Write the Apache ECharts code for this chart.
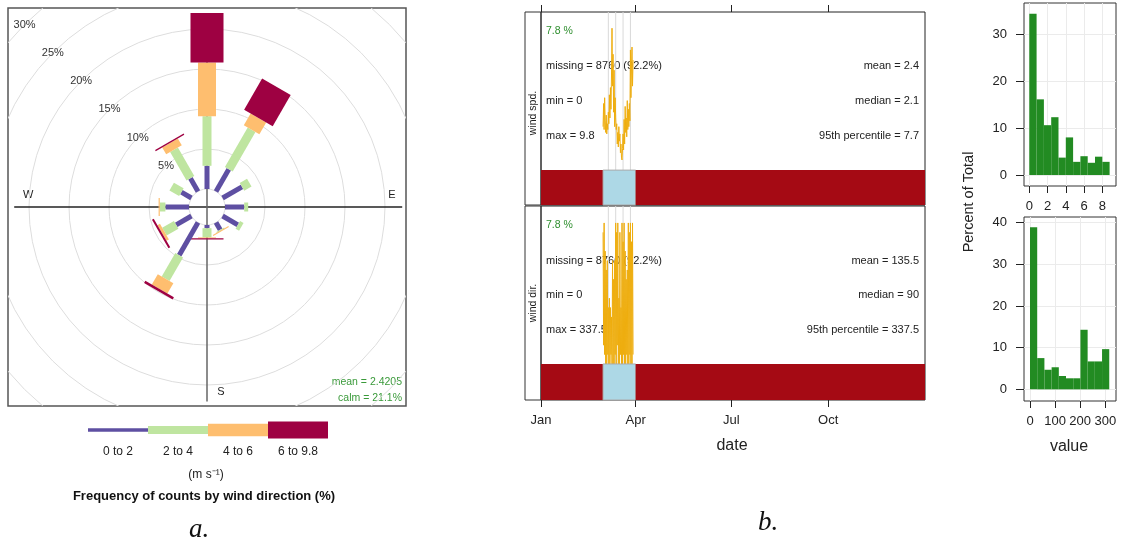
<!DOCTYPE html>
<html>
<head>
<meta charset="utf-8">
<script src="https://cdn.jsdelivr.net/npm/echarts@6/dist/echarts.min.js"></script>
<style>
  html, body { margin: 0; padding: 0; background: #fff; }
  #main { width: 1121px; height: 548px; }
</style>
</head>
<body>
<div id="main"></div>
<script>
// ---- a. wind rose: % of counts per 30 degree sector, split by speed bin
const directions = [0, 30, 60, 90, 120, 150, 180, 210, 240, 270, 300, 330];
const speedBins = ['0 to 2', '2 to 4', '4 to 6', '6 to 9.8'];
const freq0to2 = [2.9, 3.2, 2.8, 2.4, 2.2, 1.05, 0.4, 4.7, 2.2, 2.95, 1.45, 1.9];
const freq2to4 = [6.2, 5.7, 1.05, 0.5, 0.5, 0.1, 1.15, 3.4, 1.7, 0.7, 1.4, 4.1];
const freq4to6 = [6.7, 1.7, 0, 0, 0, 0.05, 0.1, 1.5, 0.35, 0.15, 0, 1.0];
const freq6to98 = [6.2, 4.5, 0, 0, 0, 0, 0.15, 0.3, 0.25, 0, 0, 0.15];
const ringPcts = [0, 5, 10, 15, 20, 25, 30];
const roseNotes = ['mean = 2.4205', 'calm = 21.1%'];

// ---- b. summary of the time series
const monthTicks = ['2001-01-01', '2001-04-01', '2001-07-01', '2001-10-01'];
const monthLabels = ['Jan', 'Apr', 'Jul', 'Oct'];
const availability = [
  ['2001-01-01', '2001-03-01', 0],
  ['2001-03-01', '2001-04-01', 1],
  ['2001-04-01', '2002-01-01', 0]
];
const weekLines = ['2001-03-06', '2001-03-13', '2001-03-20', '2001-03-27'];
const sampleStart = '2001-03-01'; // two samples a day
const windSpd = [3.0, 4.6, 2.8, 5.0, 3.4, 2.6, 3.8, 2.5, 3.2, 2.8, 4.0, 3.2, 5.2, 3.6, 5.7, 4.2,
  6.5, 9.8, 5.8, 8.0, 4.0, 6.9, 3.0, 5.0, 3.6, 2.8, 3.2, 1.8, 2.6, 1.6, 3.0, 2.0, 2.5, 1.2,
  1.8, 0.9, 0.7, 1.5, 2.5, 1.4, 3.5, 1.8, 4.4, 2.6, 3.6, 2.3, 4.8, 2.8, 4.2, 3.0, 4.6, 3.4,
  8.3, 5.0, 7.0, 8.5, 5.8, 7.6];
const windDir = [315, 45, 337.5, 22.5, 270, 0, 225, 0, 247.5, 22.5, 135, 0, 157.5, 0, 135, 22.5,
  112.5, 0, 247.5, 0, 202.5, 0, 247.5, 22.5, 337.5, 0, 315, 45, 337.5, 0, 157.5, 0, 315, 22.5,
  135, 0, 337.5, 0, 292.5, 22.5, 337.5, 0, 270, 0, 202.5, 22.5, 225, 0, 337.5, 0, 315, 22.5,
  337.5, 0, 292.5, 0, 337.5, 22.5];
const pctPresent = '7.8 %';
const spdStatsLeft = ['missing = 8760 (92.2%)', 'min = 0', 'max = 9.8'];
const spdStatsRight = ['mean = 2.4', 'median = 2.1', '95th percentile = 7.7'];
const dirStatsLeft = ['missing = 8760 (92.2%)', 'min = 0', 'max = 337.5'];
const dirStatsRight = ['mean = 135.5', 'median = 90', '95th percentile = 337.5'];

// ---- histograms (percent of total)
const spdBinEdges = [0, 0.8, 1.6, 2.4, 3.2, 4.0, 4.8, 5.6, 6.4, 7.2, 8.0, 8.8];
const spdHist = [34.3, 16.1, 10.6, 12.3, 3.7, 8.0, 2.8, 4.0, 2.6, 3.9, 2.8];
const dirBinEdges = [0, 28.7, 57.4, 86.1, 114.8, 143.5, 172.2, 200.9, 229.6, 258.3, 287.0, 315.7];
const dirHist = [38.9, 7.5, 4.7, 5.3, 3.2, 2.65, 2.65, 14.3, 6.7, 6.7, 9.65];

const FONT = 'Liberation Sans, Arial, sans-serif';
const speedColors = ['#5e4fa2', '#bfe5a0', '#febe6f', '#9e0142'];
const petalWidth = [5, 9, 18, 33];
const HOLE = 2.25; // calm hole radius in % units
const SPD_MIN = -2.41, SPD_MAX = 10.92;
const DIR_MIN = -86.2, DIR_MAX = 378;

const t = s => +new Date(s + 'T00:00:00');
const tStart = t('2001-01-01'), tEnd = t('2002-01-01');
const monthTickTimes = monthTicks.map(t);

// petal pieces: [direction, cumulative start, cumulative end, speed bin]
const freqBySpeed = [freq0to2, freq2to4, freq4to6, freq6to98];
const petalData = [];
directions.forEach((d, i) => {
  let cum = 0;
  freqBySpeed.forEach((arr, k) => {
    if (arr[i] > 0) petalData.push([d, cum, cum + arr[i], k]);
    cum += arr[i];
  });
});

const sample0 = t(sampleStart);
const spdLine = windSpd.map((v, i) => [sample0 + i * 12 * 3600e3, v]);
const dirLine = windDir.map((v, i) => [sample0 + i * 12 * 3600e3, v]);
const availData = availability.map(a => [t(a[0]), t(a[1]), a[2]]);
const weekData = weekLines.map(d => [t(d)]);

function renderPetal(params, api) {
  const a = api.value(0) * Math.PI / 180;
  const k = api.value(3);
  const r0 = HOLE + api.value(1), r1 = HOLE + api.value(2);
  const ux = Math.sin(a), uy = -Math.cos(a);
  const p0 = api.coord([r0 * Math.sin(a), r0 * Math.cos(a)]);
  let p1 = api.coord([r1 * Math.sin(a), r1 * Math.cos(a)]);
  if (Math.hypot(p1[0] - p0[0], p1[1] - p0[1]) < 1) p1 = [p0[0] + ux, p0[1] + uy];
  const h = petalWidth[k] / 2, nx = -uy * h, ny = ux * h;
  return {
    type: 'polygon',
    shape: { points: [[p0[0] + nx, p0[1] + ny], [p1[0] + nx, p1[1] + ny], [p1[0] - nx, p1[1] - ny], [p0[0] - nx, p0[1] - ny]] },
    style: { fill: speedColors[k] }
  };
}

function renderRing(params, api) {
  const c = api.coord([0, 0]);
  const r = api.coord([HOLE + api.value(0), 0])[0] - c[0];
  return { type: 'circle', shape: { cx: c[0], cy: c[1], r: r }, style: { fill: 'none', stroke: '#dddddd', lineWidth: 1 } };
}

// compass cross: [x1, y1, x2, y2, colour index]
const crossData = [[-24.1, 0, 24.4, 0, 0], [0, 24.1, 0, -24.3, 1]];
function renderCross(params, api) {
  const a = api.coord([api.value(0), api.value(1)]);
  const b = api.coord([api.value(2), api.value(3)]);
  return { type: 'line', shape: { x1: a[0], y1: a[1], x2: b[0], y2: b[1] }, style: { stroke: api.value(4) ? '#666' : '#222', lineWidth: 1.5 } };
}

function renderRingLabel(params, api) {
  const p = api.value(0), r = HOLE + p;
  const pt = api.coord([-r * Math.SQRT1_2, r * Math.SQRT1_2]);
  return { type: 'text', x: pt[0], y: pt[1], style: { text: p + '%', fill: '#333', fontSize: 11, fontFamily: FONT, align: 'center', verticalAlign: 'middle' } };
}

function makeAvail(yMin) {
  return function (params, api) {
    const a = api.coord([api.value(0), 0]);
    const b = api.coord([api.value(1), yMin]);
    const ok = api.value(2) === 1;
    return {
      type: 'rect',
      shape: { x: a[0], y: a[1], width: b[0] - a[0], height: b[1] - a[1] },
      style: ok ? { fill: '#add8e6', stroke: '#aaaaaa', lineWidth: 1 } : { fill: '#a50a14' }
    };
  };
}

function makeWeek(yMax) {
  return function (params, api) {
    const a = api.coord([api.value(0), yMax]);
    const b = api.coord([api.value(0), 0]);
    return { type: 'line', shape: { x1: a[0], y1: a[1], x2: b[0], y2: b[1] }, style: { stroke: '#d9d9d9', lineWidth: 1 } };
  };
}

function renderHist(params, api) {
  const a = api.coord([api.value(0), api.value(2)]);
  const b = api.coord([api.value(1), 0]);
  return { type: 'rect', shape: { x: a[0], y: a[1], width: b[0] - a[0], height: b[1] - a[1] }, style: { fill: '#228b22' } };
}

function histX(grid, min, max, ticks) {
  return {
    gridIndex: grid, type: 'value', min: min, max: max,
    axisLine: { show: false, onZero: false },
    axisTick: { show: true, length: 7, customValues: ticks, lineStyle: { color: '#222' } },
    axisLabel: { customValues: ticks, margin: 14, fontSize: 13, color: '#222', fontFamily: FONT },
    splitLine: { show: true, lineStyle: { color: '#ebebeb' } }
  };
}
function histY(grid, min, max, ticks) {
  return {
    gridIndex: grid, type: 'value', min: min, max: max,
    axisLine: { show: false, onZero: false },
    axisTick: { show: true, length: 8, customValues: ticks, lineStyle: { color: '#222' } },
    axisLabel: { customValues: ticks, margin: 17, fontSize: 13, color: '#222', fontFamily: FONT },
    splitLine: { show: true, lineStyle: { color: '#ebebeb' } }
  };
}

const graphic = [];
function txt(x, y, text, opts) {
  const o = Object.assign({}, opts || {});
  const rot = o.rotation; delete o.rotation;
  const el = {
    type: 'text', x: x, y: y,
    style: Object.assign({ text: text, fill: '#222', fontSize: 11, fontFamily: FONT, align: 'left', verticalAlign: 'middle' }, o)
  };
  if (rot) el.rotation = rot;
  graphic.push(el);
}

// rose compass letters and notes
txt(23, 195, 'W');
txt(392, 195, 'E', { align: 'center' });
txt(221, 392, 'S', { align: 'center' });
txt(402, 382, roseNotes[0], { align: 'right', fill: '#3a9a3a', fontSize: 10.5 });
txt(402, 398, roseNotes[1], { align: 'right', fill: '#3a9a3a', fontSize: 10.5 });

// rose legend
const legendThick = [3.5, 8, 12.5, 17];
speedBins.forEach((name, k) => {
  graphic.push({ type: 'rect', shape: { x: 88 + 60 * k, y: 430 - legendThick[k] / 2, width: 60, height: legendThick[k] }, style: { fill: speedColors[k] } });
  txt(118 + 60 * k, 452, name, { align: 'center', fontSize: 12 });
});
txt(206, 475, '(m s\u207B\u00B9)', { align: 'center', fontSize: 12 });
txt(204, 496, 'Frequency of counts by wind direction (%)', { align: 'center', fontSize: 13, fontWeight: 'bold', fill: '#111' });
txt(199, 530, 'a.', { align: 'center', fontSize: 27, fontStyle: 'italic', fontFamily: 'Liberation Serif, Times New Roman, serif', fill: '#111' });
txt(768, 523, 'b.', { align: 'center', fontSize: 27, fontStyle: 'italic', fontFamily: 'Liberation Serif, Times New Roman, serif', fill: '#111' });

// time series strips and stats
graphic.push({ type: 'rect', shape: { x: 525, y: 12, width: 16, height: 193 }, style: { fill: 'none', stroke: '#333', lineWidth: 1 } });
graphic.push({ type: 'rect', shape: { x: 525, y: 206, width: 16, height: 194 }, style: { fill: 'none', stroke: '#333', lineWidth: 1 } });
txt(533, 113, 'wind spd.', { align: 'center', fontSize: 10.5, rotation: Math.PI / 2 });
txt(533, 303, 'wind dir.', { align: 'center', fontSize: 10.5, rotation: Math.PI / 2 });
txt(546, 31, pctPresent, { fill: '#2f8f2f', fontSize: 10.5 });
txt(546, 225, pctPresent, { fill: '#2f8f2f', fontSize: 10.5 });
const spdRows = [66, 101, 136], dirRows = [261, 295, 330];
spdRows.forEach((y, i) => { txt(546, y, spdStatsLeft[i]); txt(919, y, spdStatsRight[i], { align: 'right' }); });
dirRows.forEach((y, i) => { txt(546, y, dirStatsLeft[i]); txt(919, y, dirStatsRight[i], { align: 'right' }); });
txt(732, 446, 'date', { align: 'center', fontSize: 16 });
txt(1069, 447, 'value', { align: 'center', fontSize: 16 });
txt(969, 202, 'Percent of Total', { align: 'center', fontSize: 14.5, rotation: Math.PI / 2 });

const option = {
  animation: false,
  textStyle: { fontFamily: FONT },
  grid: [
    { left: 8, top: 8, width: 398, height: 398, show: true, borderColor: '#555', borderWidth: 1.5 },
    { left: 541, top: 12, width: 384, height: 193, show: true, borderColor: '#222', borderWidth: 1 },
    { left: 541, top: 206, width: 384, height: 194, show: true, borderColor: '#222', borderWidth: 1 },
    { left: 1024, top: 3, width: 92, height: 183, show: true, borderColor: '#333', borderWidth: 1 },
    { left: 1024, top: 217, width: 92, height: 184, show: true, borderColor: '#333', borderWidth: 1 }
  ],
  xAxis: [
    { gridIndex: 0, type: 'value', min: -24.875, max: 24.875, show: false },
    {
      gridIndex: 1, type: 'value', min: tStart, max: tEnd, position: 'top',
      axisLine: { show: false, onZero: false },
      axisTick: { show: true, length: 7, customValues: monthTickTimes, lineStyle: { color: '#222' } },
      axisLabel: { show: false }, splitLine: { show: false }
    },
    {
      gridIndex: 2, type: 'value', min: tStart, max: tEnd,
      axisLine: { show: false, onZero: false },
      axisTick: { show: true, length: 7, customValues: monthTickTimes, lineStyle: { color: '#222' } },
      axisLabel: {
        customValues: monthTickTimes, margin: 14, fontSize: 13, color: '#222', fontFamily: FONT,
        formatter: v => monthLabels[monthTickTimes.indexOf(+v)] || ''
      },
      splitLine: { show: false }
    },
    histX(3, -0.58, 9.5, [0, 2, 4, 6, 8]),
    histX(4, -23.9, 342.6, [0, 100, 200, 300])
  ],
  yAxis: [
    { gridIndex: 0, type: 'value', min: -24.875, max: 24.875, show: false },
    { gridIndex: 1, type: 'value', min: SPD_MIN, max: SPD_MAX, show: false },
    { gridIndex: 2, type: 'value', min: DIR_MIN, max: DIR_MAX, show: false },
    histY(3, -2.34, 36.6, [0, 10, 20, 30]),
    histY(4, -2.8, 41.37, [0, 10, 20, 30, 40])
  ],
  graphic: graphic,
  series: [
    { type: 'custom', name: 'rings', xAxisIndex: 0, yAxisIndex: 0, clip: true, z: 1, silent: true, renderItem: renderRing, data: ringPcts.map(p => [p]) },
    { type: 'custom', name: 'cross', xAxisIndex: 0, yAxisIndex: 0, z: 2, silent: true, renderItem: renderCross, data: crossData },
    { type: 'custom', name: 'petals', xAxisIndex: 0, yAxisIndex: 0, z: 3, silent: true, renderItem: renderPetal, data: petalData },
    { type: 'custom', name: 'ring labels', xAxisIndex: 0, yAxisIndex: 0, z: 4, silent: true, clip: false, renderItem: renderRingLabel, data: ringPcts.slice(1).map(p => [p]) },

    { type: 'custom', xAxisIndex: 1, yAxisIndex: 1, z: 1, silent: true, renderItem: makeWeek(SPD_MAX), data: weekData },
    { type: 'line', xAxisIndex: 1, yAxisIndex: 1, z: 2, showSymbol: false, silent: true, lineStyle: { color: '#eead0e', width: 1 }, data: spdLine },
    { type: 'custom', xAxisIndex: 1, yAxisIndex: 1, z: 3, silent: true, renderItem: makeAvail(SPD_MIN), data: availData },

    { type: 'custom', xAxisIndex: 2, yAxisIndex: 2, z: 1, silent: true, renderItem: makeWeek(DIR_MAX), data: weekData },
    { type: 'line', xAxisIndex: 2, yAxisIndex: 2, z: 2, showSymbol: false, silent: true, lineStyle: { color: '#eead0e', width: 1 }, data: dirLine },
    { type: 'custom', xAxisIndex: 2, yAxisIndex: 2, z: 3, silent: true, renderItem: makeAvail(DIR_MIN), data: availData },

    { type: 'custom', xAxisIndex: 3, yAxisIndex: 3, silent: true, renderItem: renderHist, data: spdHist.map((p, i) => [spdBinEdges[i], spdBinEdges[i + 1], p]) },
    { type: 'custom', xAxisIndex: 4, yAxisIndex: 4, silent: true, renderItem: renderHist, data: dirHist.map((p, i) => [dirBinEdges[i], dirBinEdges[i + 1], p]) }
  ]
};

const chart = echarts.init(document.getElementById('main'));
chart.setOption(option);
window.addEventListener('resize', function () { chart.resize(); }, false);
</script>
</body>
</html>
